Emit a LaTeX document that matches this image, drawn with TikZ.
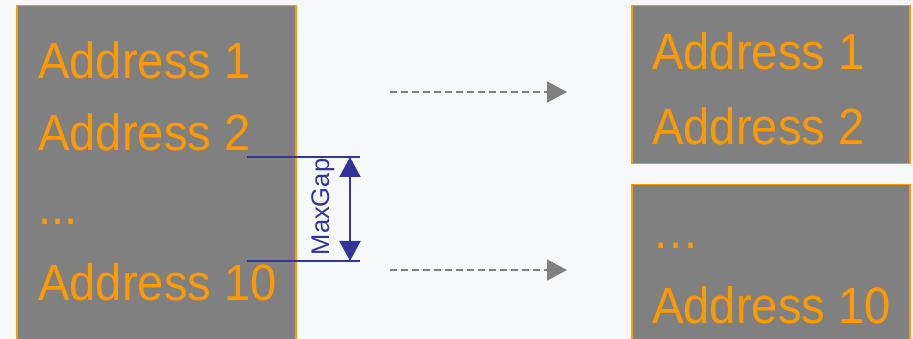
\documentclass[tikz,border=0pt]{standalone}
\usepackage{fontspec}
\setmainfont{Liberation Sans}
\usetikzlibrary{arrows.meta}
\definecolor{addrorange}{HTML}{FF9900}
\definecolor{boxgray}{HTML}{808080}
\definecolor{gapblue}{HTML}{333399}
\definecolor{bgtint}{HTML}{F6F8FA}
\newcommand{\addrtext}[1]{\scalebox{0.925}[1]{#1}}
\begin{document}
\begin{tikzpicture}[
x=1pt,y=-1pt,
membox/.style={%
draw=addrorange,
fill=boxgray,
line width=1.5pt,
anchor=north west,
inner sep=0pt
},
addr/.style={%
text=addrorange,
font=\fontsize{51}{54}\selectfont,
anchor=base west,
inner sep=0pt
},
move/.style={%
draw=boxgray,
line width=1.5pt,
dash pattern=on 7pt off 4pt,
-{Triangle[length=20pt,width=21pt]}
}
]
\useasboundingbox(0,0)rectangle(913,339);
\fill[bgtint](0,0)rectangle(913,339);
\clip(0,0)rectangle(913,339);
%% Source block
\node[membox,minimum width=279pt,minimum height=360pt]at(16,5)(src){};
\node[addr]at(38,79)(sa1){\addrtext{Address 1}};
\node[addr]at(38,151)(sa2){\addrtext{Address 2}};
\node[addr]at(38,225)(sdots){\addrtext{...}};
\node[addr]at(38,300)(sa10){\addrtext{Address 10}};
%% Split blocks
\node[membox,minimum width=278pt,minimum height=158pt]at(631,5)(dst1){};
\node[addr]at(652,70)(da1){\addrtext{Address 1}};
\node[addr]at(652,145)(da2){\addrtext{Address 2}};
\node[membox,minimum width=278pt,minimum height=180pt]at(631,184)(dst2){};
\node[addr]at(652,248)(ddots){\addrtext{\dots}};
\node[addr]at(652,323)(da10){\addrtext{Address 10}};
%% Moves
\coordinate(m1a)at(390,92);
\coordinate(m1b)at(567,92);
\coordinate(m2a)at(390,270);
\coordinate(m2b)at(567,270);
\draw[move](m1a)--(m1b);
\draw[move](m2a)--(m2b);
%% Gap dimension
\coordinate(gt1)at(247,157);
\coordinate(gt2)at(360,157);
\coordinate(gb1)at(247,261);
\coordinate(gb2)at(360,261);
\draw[gapblue,line width=1.5pt](gt1)--(gt2);
\draw[gapblue,line width=1.5pt](gb1)--(gb2);
\coordinate(at)at(350,157);
\coordinate(ab)at(350,261);
\draw[gapblue,line width=2pt,{Triangle[length=20pt,width=21pt]}-{Triangle[length=20pt,width=21pt]}](at)--(ab);
\node[text=gapblue,font=\fontsize{25.5}{27}\selectfont,rotate=90,anchor=base,inner sep=0pt]at(329,207)(gap){MaxGap};
\end{tikzpicture}
\end{document}
